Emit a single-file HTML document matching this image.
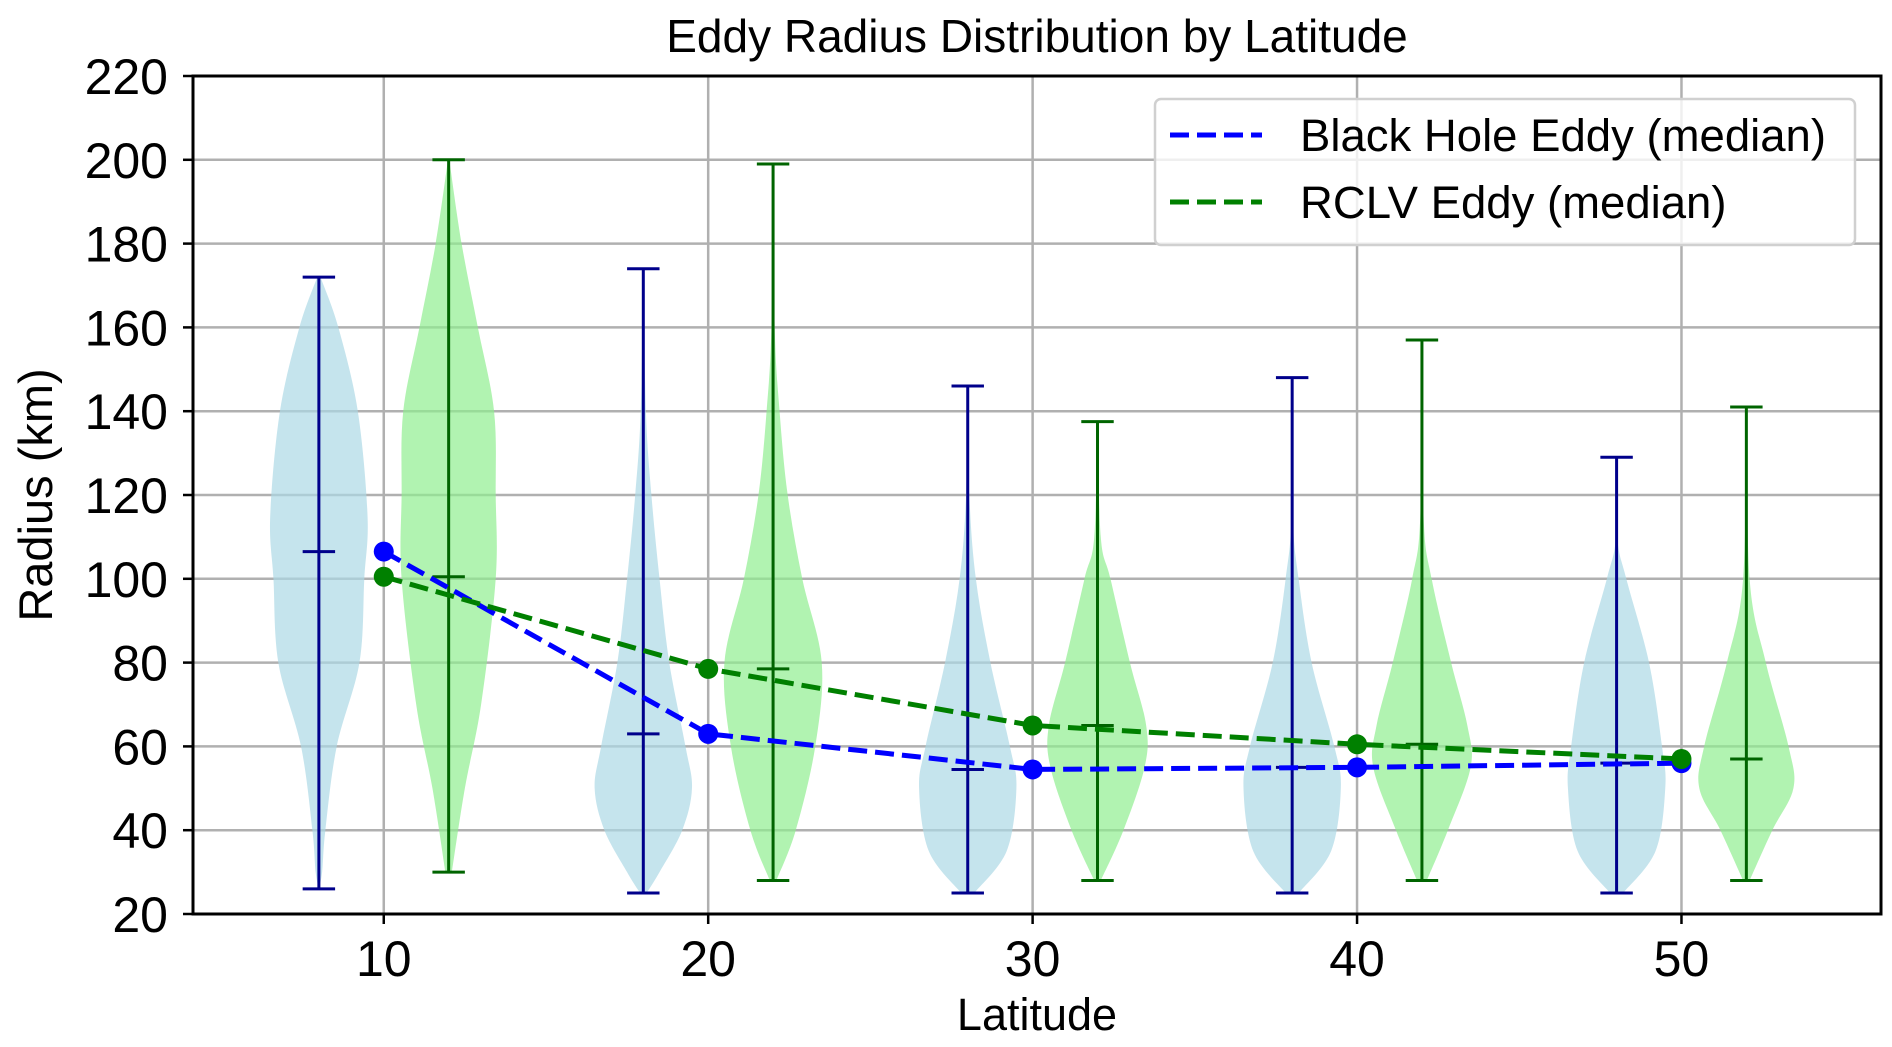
<!DOCTYPE html>
<html><head><meta charset="utf-8"><style>
html,body{margin:0;padding:0;background:#fff;}
svg{display:block;font-family:"Liberation Sans","DejaVu Sans",sans-serif;}
</style></head><body>
<svg id="chart" width="1892" height="1047" viewBox="0 0 1892 1047"></svg>
<script>
const latitudes = [10, 20, 30, 40, 50];
const bhMedian = [106.5, 63, 54.5, 55, 56];
const bhMin = [26, 25, 25, 25, 25];
const bhMax = [172, 174, 146, 148, 129];
const rcMedian = [100.5, 78.5, 65, 60.5, 57];
const rcMin = [30, 28, 28, 28, 28];
const rcMax = [200, 199, 137.5, 157, 141];
// violin density profiles: [radius, half-width in latitude units]
const bhProfiles = [
 [[26,0],[30,0.1],[40,0.2],[60,0.55],[80,1.25],[100,1.4],[115,1.5],[140,1.2],[160,0.6],[172,0.05]],
 [[25,0.1],[30,0.5],[40,1.2],[50,1.5],[60,1.3],[80,0.8],[100,0.5],[120,0.25],[140,0.08],[174,0]],
 [[25,0.2],[35,1.2],[50,1.5],[60,1.3],[80,0.7],[100,0.25],[120,0.05],[146,0]],
 [[25,0.2],[35,1.2],[50,1.5],[60,1.3],[80,0.6],[100,0.2],[115,0.02],[148,0]],
 [[25,0.2],[35,1.2],[50,1.5],[60,1.4],[80,1.0],[100,0.3],[110,0.02],[129,0]]
];
const rcProfiles = [
 [[30,0.1],[50,0.5],[70,1.0],[100,1.45],[120,1.45],[140,1.4],[160,0.9],[180,0.4],[200,0.02]],
 [[28,0.1],[40,0.7],[60,1.3],[80,1.5],[100,0.9],[120,0.45],[140,0.2],[160,0.05],[199,0]],
 [[28,0.1],[40,0.8],[55,1.45],[65,1.5],[80,1.0],[100,0.4],[110,0.1],[137.5,0]],
 [[28,0.15],[40,0.8],[55,1.5],[65,1.4],[80,0.9],[100,0.3],[115,0.05],[157,0]],
 [[28,0.1],[40,0.8],[50,1.45],[60,1.3],[80,0.6],[100,0.1],[141,0]]
];
const yTicks = [20,40,60,80,100,120,140,160,180,200,220];
const xTicks = [10,20,30,40,50];

const L=193,R=1881,T=76,B=914;
const xMin=4.12,xMax=56.15,yMin=20,yMax=220;
const sx=v=>L+(v-xMin)/(xMax-xMin)*(R-L);
const sy=v=>B-(v-yMin)/(yMax-yMin)*(B-T);
const svg=document.getElementById('chart');
const NS='http://www.w3.org/2000/svg';
function mk(tag,attrs,parent){const e=document.createElementNS(NS,tag);for(const k in attrs)e.setAttribute(k,attrs[k]);(parent||svg).appendChild(e);return e;}

yTicks.forEach(v=>{const g=mk('line',{x1:L,x2:R,y1:sy(v),y2:sy(v),stroke:'#b0b0b0','stroke-width':2.5});

});
xTicks.forEach(v=>{const g=mk('line',{x1:sx(v),x2:sx(v),y1:T,y2:B,stroke:'#b0b0b0','stroke-width':2.5});

});

function smoothSide(pts){
  let d='';
  for(let i=0;i<pts.length-1;i++){
    const p0=pts[Math.max(0,i-1)],p1=pts[i],p2=pts[i+1],p3=pts[Math.min(pts.length-1,i+2)];
    const c1=[p1[0]+(p2[0]-p0[0])/6,p1[1]+(p2[1]-p0[1])/6];
    const c2=[p2[0]-(p3[0]-p1[0])/6,p2[1]-(p3[1]-p1[1])/6];
    d+=' C'+c1.join(',')+' '+c2.join(',')+' '+p2.join(',');
  }
  return d;
}
function violin(center,prof,fill,stroke,mn,mx,med,name){
  const right=prof.map(p=>[sx(center+p[1]),sy(p[0])]);
  const left=prof.slice().reverse().map(p=>[sx(center-p[1]),sy(p[0])]);
  const d='M'+right[0].join(',')+smoothSide(right)+' L'+left[0].join(',')+smoothSide(left)+' Z';
  const v=mk('path',{d:d,fill:fill,'fill-opacity':0.7});
  
  
  const cw=0.5;
  const c=mk('line',{x1:sx(center),x2:sx(center),y1:sy(mn),y2:sy(mx),stroke:stroke,'stroke-width':3});
  
  
  [mn,mx,med].forEach((val,i)=>{const l=mk('line',{x1:sx(center-cw),x2:sx(center+cw),y1:sy(val),y2:sy(val),stroke:stroke,'stroke-width':3});
    
    });
}
latitudes.forEach((lat,i)=>{
  violin(lat-2,bhProfiles[i],'#add8e6','#00008b',bhMin[i],bhMax[i],bhMedian[i],'bh-'+lat);
  violin(lat+2,rcProfiles[i],'#90ee90','#006400',rcMin[i],rcMax[i],rcMedian[i],'rclv-'+lat);
});

function series(vals,color,name){
  const p=mk('polyline',{points:latitudes.map((l,i)=>sx(l)+','+sy(vals[i])).join(' '),fill:'none',stroke:color,'stroke-width':5,'stroke-dasharray':'19,8'});
  
  
  latitudes.forEach((l,i)=>{const c=mk('circle',{cx:sx(l),cy:sy(vals[i]),r:10,fill:color});
    
    });
}
series(bhMedian,'#0000ff','black-hole');
series(rcMedian,'#008000','rclv');

const sp=mk('rect',{x:L,y:T,width:R-L,height:B-T,fill:'none',stroke:'#000','stroke-width':3});



yTicks.forEach(v=>{mk('line',{x1:L-10,x2:L,y1:sy(v),y2:sy(v),stroke:'#000','stroke-width':2.5});
  const t=mk('text',{x:L-25,y:sy(v)+18,'text-anchor':'end','font-size':50,fill:'#000'});t.textContent=v;
  
  });
xTicks.forEach(v=>{mk('line',{x1:sx(v),x2:sx(v),y1:B,y2:B+10,stroke:'#000','stroke-width':2.5});
  const t=mk('text',{x:sx(v),y:B+62,'text-anchor':'middle','font-size':50,fill:'#000'});t.textContent=v;
  
  });

let t=mk('text',{x:(L+R)/2,y:52,'text-anchor':'middle','font-size':46,fill:'#000'});t.textContent='Eddy Radius Distribution by Latitude';


t=mk('text',{x:(L+R)/2,y:1030,'text-anchor':'middle','font-size':45,fill:'#000'});t.textContent='Latitude';


t=mk('text',{x:0,y:0,'text-anchor':'middle','font-size':47,fill:'#000',transform:'translate(52,'+((T+B)/2)+') rotate(-90)'});t.textContent='Radius (km)';



const lg=mk('g',{});


mk('rect',{x:1155,y:99,width:700,height:146,rx:6,fill:'#fff','fill-opacity':0.8,stroke:'#d0d0d0','stroke-width':2.5},lg);
[['Black Hole Eddy (median)','#0000ff',135],['RCLV Eddy (median)','#008000',202]].forEach(e=>{
  const g=mk('g',{},lg);
  
  
  mk('line',{x1:1170,x2:1262,y1:e[2],y2:e[2],stroke:e[1],'stroke-width':5,'stroke-dasharray':'19,8'},g);
  const tx=mk('text',{x:1300,y:e[2]+16,'font-size':45.5,fill:'#000'},g);tx.textContent=e[0];
});
</script>
</body></html>
